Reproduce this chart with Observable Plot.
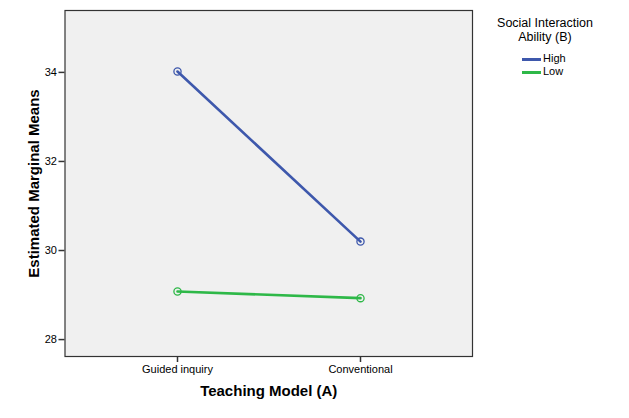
<!DOCTYPE html>
<html>
<head>
<meta charset="utf-8">
<script src="https://cdn.jsdelivr.net/npm/d3@7"></script>
<script src="https://cdn.jsdelivr.net/npm/@observablehq/plot@0.6"></script>
<style>
  html, body { margin: 0; padding: 0; background: #ffffff; }
  #wrap { position: relative; width: 629px; height: 418px; font-family: "Liberation Sans", Arial, sans-serif; }
  #legend { position: absolute; left: 478px; top: 16px; width: 134px; font-size: 12.5px; color: #000; }
  #legend .title { text-align: center; line-height: 14px; }
  #legend .item { position: relative; height: 13px; line-height: 13px; font-size: 11px; }
  #legend .sw { position: absolute; left: 44px; top: 6px; width: 19px; height: 3px; }
  #legend .lab { position: absolute; left: 65px; top: 0; }
</style>
</head>
<body>
<div id="wrap">
  <div id="chart"></div>
  <div id="legend"></div>
</div>
<script>
const categories = ["Guided inquiry", "Conventional"];
const seriesNames = ["High", "Low"];
const highValues = [34.02, 30.20];
const lowValues = [29.08, 28.93];
const yTicks = [28, 30, 32, 34];
const colors = ["#3E58AC", "#2EB848"];
const legendTitle = ["Social Interaction", "Ability (B)"];
const xTitle = "Teaching Model (A)";
const yTitle = "Estimated Marginal Means";

const data = [];
categories.forEach((c, i) => data.push({cat: c, series: "High", value: highValues[i]}));
categories.forEach((c, i) => data.push({cat: c, series: "Low", value: lowValues[i]}));

const font = "Liberation Sans, Arial, sans-serif";

const chart = Plot.plot({
  width: 629,
  height: 418,
  marginLeft: 64.5,
  marginTop: 10,
  marginRight: 157,
  marginBottom: 62,
  style: {fontFamily: font, background: "#ffffff", color: "#000"},
  x: {type: "point", domain: categories, padding: 0.613},
  y: {domain: [27.62, 35.39]},
  color: {domain: seriesNames, range: colors},
  marks: [
    Plot.frame({fill: "#F0F0F0", stroke: "none"}),
    Plot.line(data, {x: "cat", y: "value", z: "series", stroke: "series", strokeWidth: 2.6}),
    Plot.dot(data, {x: "cat", y: "value", stroke: "series", r: 3.6, strokeWidth: 1.3, fill: "none"}),
    Plot.frame({stroke: "#333", strokeWidth: 1.2}),
    Plot.axisY({ticks: yTicks, tickSize: 6, tickPadding: 2, fontSize: 11, label: null, stroke: "#333", strokeWidth: 1.5}),
    Plot.axisX({tickSize: 6, tickPadding: 3, fontSize: 11, label: null, stroke: "#333", strokeWidth: 1.5}),
    Plot.text([yTitle], {frameAnchor: "left", dx: -30.5, rotate: -90, textAnchor: "middle", text: d => d, fontSize: 15, fontWeight: "bold", fill: "#000"}),
    Plot.text([xTitle], {frameAnchor: "bottom", dy: 39, text: d => d, fontSize: 15, fontWeight: "bold", fill: "#000"})
  ]
});
document.getElementById("chart").appendChild(chart);

const legend = document.getElementById("legend");
legend.innerHTML = '<div class="title">' + legendTitle.join("<br>") + '</div><div style="height:8px"></div>' +
  seriesNames.map((s, i) => '<div class="item"><div class="sw" style="background:' + colors[i] + '"></div><div class="lab">' + s + '</div></div>').join("");
</script>
</body>
</html>
